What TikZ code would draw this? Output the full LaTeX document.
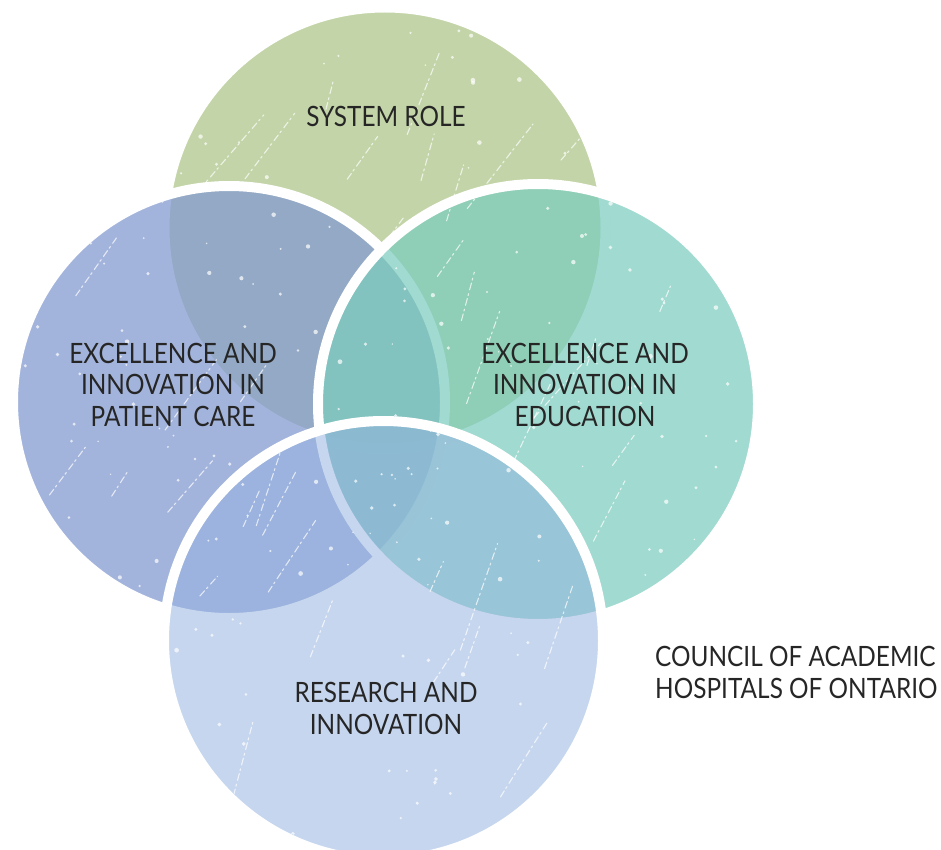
\documentclass[tikz,border=0pt]{standalone}
\usepackage{fontspec}
\newfontfamily\labfont{Lato}[FakeStretch=0.87]
\definecolor{cgreen}{RGB}{195,213,168}
\definecolor{cblue}{RGB}{131,154,208}
\definecolor{cteal}{RGB}{124,204,190}
\definecolor{cbottom}{RGB}{148,178,223}
\definecolor{textcol}{RGB}{38,38,38}
\begin{document}
\begin{tikzpicture}[x=1pt,y=-1pt,
  disc/.style={circle, inner sep=0pt, draw=white, line width=10pt},
  scratch/.style={draw=white, line width=1.1pt, opacity=0.7, dash pattern=on 7pt off 3pt on 2pt off 4pt, line cap=round},
  speck/.style={fill=white, opacity=0.7},
  lab/.style={font={\labfont\fontsize{28}{31.5}\selectfont}, text=textcol, align=center, inner sep=0pt}]
\useasboundingbox (0,0) rectangle (941,850);
\clip (0,0) rectangle (941,850);
\node[disc, fill=cgreen, minimum size=441pt] (sys) at (385,228) {};
\node[disc, fill=cblue, fill opacity=0.74, minimum size=432pt] (pat) at (229,402) {};
\node[disc, fill=cteal, fill opacity=0.72, minimum size=440pt] (edu) at (538,404) {};
\node[disc, fill=cbottom, fill opacity=0.53, minimum size=439pt] (res) at (383.5,640.5) {};
% worn texture
\begin{scope}
  \clip (385,228) circle (215pt) (229,402) circle (211pt) (538,404) circle (215pt) (383.5,640.5) circle (214pt);
  \pgfmathsetseed{11}
  \foreach \i in {1,...,50} {
    \pgfmathsetmacro\xa{20+rnd*730}
    \pgfmathsetmacro\ya{20+rnd*820}
    \pgfmathsetmacro\ang{48+rnd*28}
    \pgfmathsetmacro\len{25+rnd*90}
    \draw[scratch] (\xa,\ya) -- ++(\ang:\len pt);
  }
  \foreach \i in {1,...,240} {
    \pgfmathsetmacro\xa{20+rnd*730}
    \pgfmathsetmacro\ya{20+rnd*820}
    \pgfmathsetmacro\sz{0.8+rnd*1.6}
    \fill[speck] (\xa,\ya) circle (\sz pt);
  }
\end{scope}
\node[lab] (tsys) at (386,116) {SYSTEM ROLE};
\node[lab] (tpat) at (173,384.5) {EXCELLENCE AND\\INNOVATION IN\\PATIENT CARE};
\node[lab] (tedu) at (585,384.5) {EXCELLENCE AND\\INNOVATION IN\\EDUCATION};
\node[lab] (tres) at (386,708.5) {RESEARCH AND\\INNOVATION};
\node[lab, align=left, anchor=west] (tcah) at (655,672.5) {COUNCIL OF ACADEMIC\\HOSPITALS OF ONTARIO};
\end{tikzpicture}
\end{document}
